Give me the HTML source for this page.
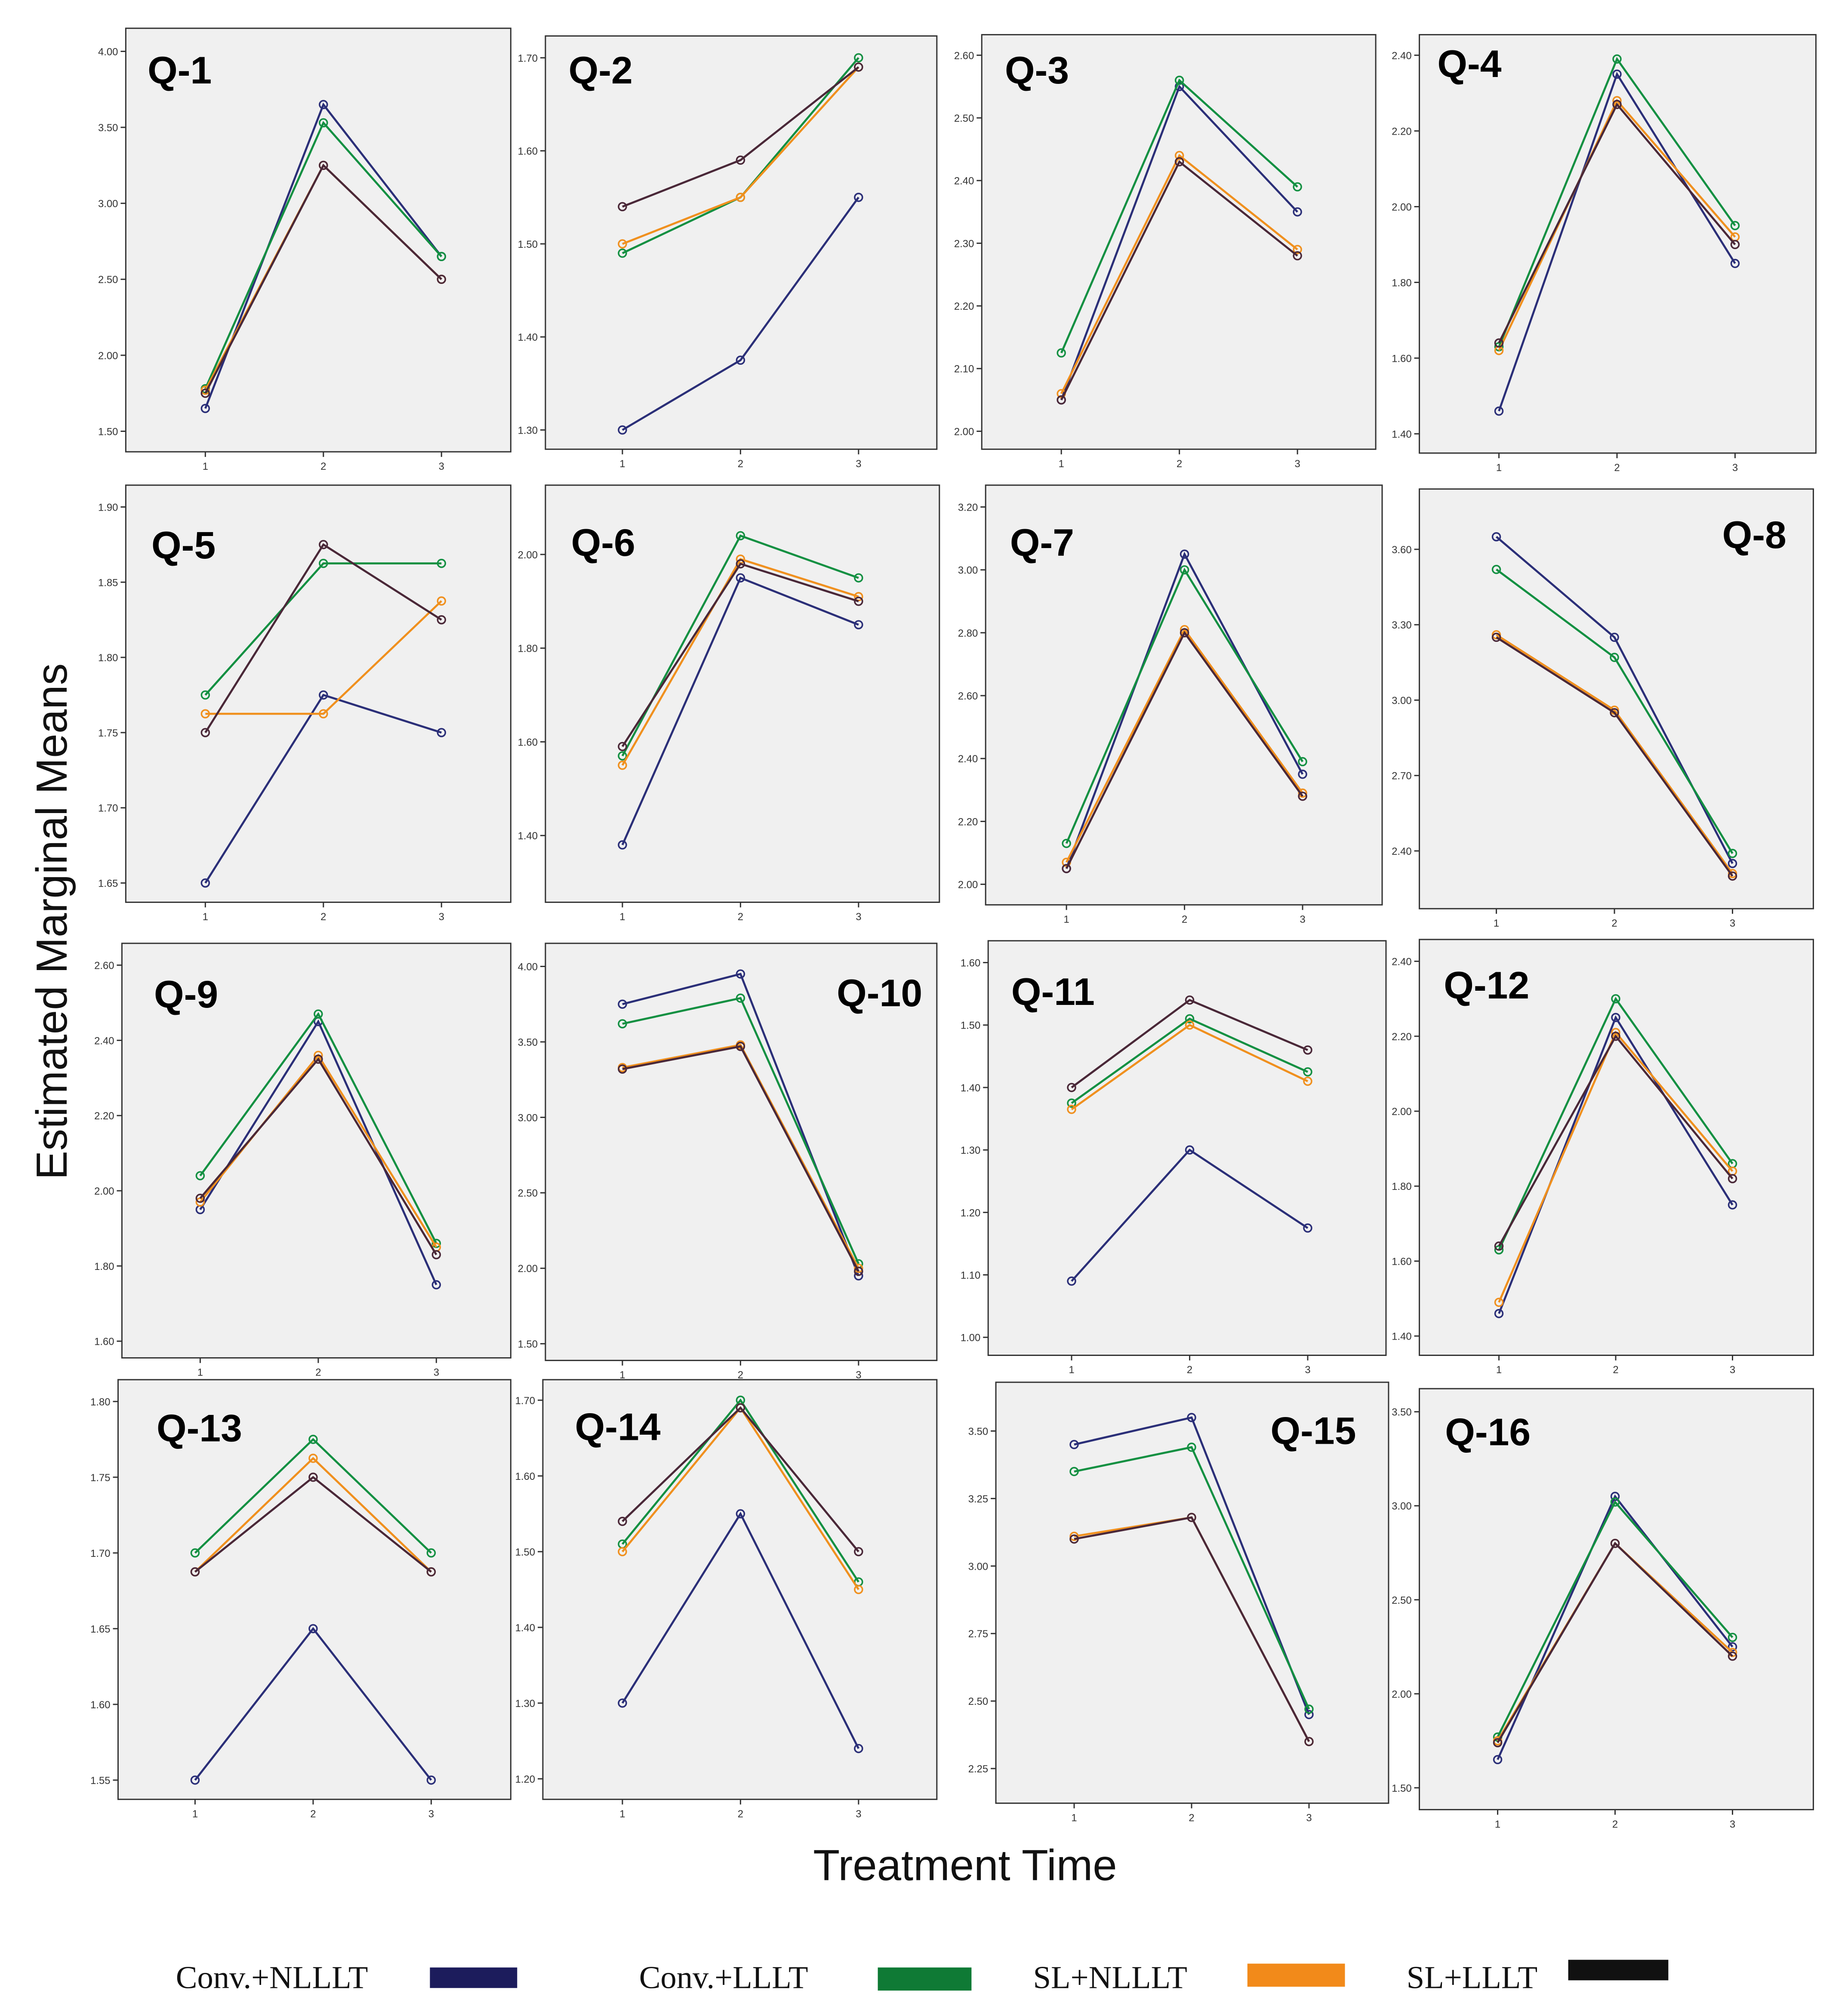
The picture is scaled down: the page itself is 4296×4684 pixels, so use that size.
<!DOCTYPE html>
<html><head><meta charset="utf-8">
<style>
html,body{margin:0;padding:0;background:#fff;}
svg{display:block;}
</style></head>
<body>
<svg id="fig" width="4296" height="4684" viewBox="0 0 1440 1570" xmlns="http://www.w3.org/2000/svg" font-family="Liberation Sans, sans-serif">
<rect width="1440" height="1570" fill="#fff"/>
<text transform="translate(52,718) rotate(-90)" text-anchor="middle" font-size="34" fill="#111">Estimated Marginal Means</text>
<text x="752" y="1465" text-anchor="middle" font-size="34" fill="#111">Treatment Time</text>
<g font-family="Liberation Serif, serif" font-size="25" fill="#111">
<g><text x="137" y="1549">Conv.+NLLLT</text><rect x="335" y="1533" width="68" height="16" fill="#1c1c5c"/></g>
<g><text x="498" y="1549">Conv.+LLLT</text><rect x="684" y="1533" width="73" height="18" fill="#0f7a35"/></g>
<g><text x="805" y="1549">SL+NLLLT</text><rect x="972" y="1530" width="76" height="18" fill="#f28a1a"/></g>
<g><text x="1096" y="1549">SL+LLLT</text><rect x="1222" y="1527" width="78" height="16" fill="#111"/></g>
</g>
<g id="panels"></g>
</svg>
<script>
const timePoints = [1, 2, 3];
const seriesNames = ["Conv.+NLLLT", "Conv.+LLLT", "SL+NLLLT", "SL+LLLT"];
const panelTitles = ["Q-1","Q-2","Q-3","Q-4","Q-5","Q-6","Q-7","Q-8","Q-9","Q-10","Q-11","Q-12","Q-13","Q-14","Q-15","Q-16"];
const convNLLLT = [[1.65,3.65,2.65],[1.30,1.375,1.55],[2.05,2.55,2.35],[1.46,2.35,1.85],[1.65,1.775,1.75],[1.38,1.95,1.85],[2.05,3.05,2.35],[3.65,3.25,2.35],[1.95,2.45,1.75],[3.75,3.95,1.95],[1.09,1.30,1.175],[1.46,2.25,1.75],[1.55,1.65,1.55],[1.30,1.55,1.24],[3.45,3.55,2.45],[1.65,3.05,2.25]];
const convLLLT = [[1.78,3.53,2.65],[1.49,1.55,1.70],[2.125,2.56,2.39],[1.63,2.39,1.95],[1.775,1.8625,1.8625],[1.57,2.04,1.95],[2.13,3.00,2.39],[3.52,3.17,2.39],[2.04,2.47,1.86],[3.62,3.79,2.03],[1.375,1.51,1.425],[1.63,2.30,1.86],[1.70,1.775,1.70],[1.51,1.70,1.46],[3.35,3.44,2.47],[1.77,3.02,2.30]];
const slNLLLT = [[1.77,3.25,2.50],[1.50,1.55,1.69],[2.06,2.44,2.29],[1.62,2.28,1.92],[1.7625,1.7625,1.8375],[1.55,1.99,1.91],[2.07,2.81,2.29],[3.26,2.96,2.31],[1.97,2.36,1.85],[3.33,3.48,2.00],[1.365,1.50,1.41],[1.49,2.21,1.84],[1.6875,1.7625,1.6875],[1.50,1.69,1.45],[3.11,3.18,2.35],[1.75,2.80,2.22]];
const slLLLT = [[1.75,3.25,2.50],[1.54,1.59,1.69],[2.05,2.43,2.28],[1.64,2.27,1.90],[1.75,1.875,1.825],[1.59,1.98,1.90],[2.05,2.80,2.28],[3.25,2.95,2.30],[1.98,2.35,1.83],[3.32,3.47,1.98],[1.40,1.54,1.46],[1.64,2.20,1.82],[1.6875,1.75,1.6875],[1.54,1.69,1.50],[3.10,3.18,2.35],[1.74,2.80,2.20]];
const yTicks = [
 [1.5,2.0,2.5,3.0,3.5,4.0],[1.3,1.4,1.5,1.6,1.7],[2.0,2.1,2.2,2.3,2.4,2.5,2.6],[1.4,1.6,1.8,2.0,2.2,2.4],
 [1.65,1.70,1.75,1.80,1.85,1.90],[1.4,1.6,1.8,2.0],[2.0,2.2,2.4,2.6,2.8,3.0,3.2],[2.4,2.7,3.0,3.3,3.6],
 [1.6,1.8,2.0,2.2,2.4,2.6],[1.5,2.0,2.5,3.0,3.5,4.0],[1.0,1.1,1.2,1.3,1.4,1.5,1.6],[1.4,1.6,1.8,2.0,2.2,2.4],
 [1.55,1.60,1.65,1.70,1.75,1.80],[1.2,1.3,1.4,1.5,1.6,1.7],[2.25,2.5,2.75,3.0,3.25,3.5],[1.5,2.0,2.5,3.0,3.5]];
// layout: box [x0,y0,x1,y1], pixel y of lowest & highest tick, pixel x of time 1 & 3, title pos
const layout = [
 {b:[98,22,398,352],py:[336,40],px:[160,344],t:[115,65]},
 {b:[425,28,730,350],py:[335,45],px:[485,669],t:[443,65]},
 {b:[765,27,1072,350],py:[336,43],px:[827,1011],t:[783,65]},
 {b:[1106,27,1415,353],py:[338,43],px:[1168,1352],t:[1120,60]},
 {b:[98,378,398,703],py:[688,395],px:[160,344],t:[118,435]},
 {b:[425,378,732,703],py:[651,432],px:[485,669],t:[445,433]},
 {b:[768,378,1077,705],py:[689,395],px:[831,1015],t:[787,433]},
 {b:[1106,381,1413,708],py:[663,428],px:[1166,1350],t:[1342,427]},
 {b:[95,735,398,1058],py:[1045,752],px:[156,340],t:[120,785]},
 {b:[425,735,730,1060],py:[1047,753],px:[485,669],t:[652,784]},
 {b:[770,733,1080,1056],py:[1042,750],px:[835,1019],t:[788,783]},
 {b:[1106,732,1413,1056],py:[1041,749],px:[1168,1350],t:[1125,778]},
 {b:[92,1075,398,1402],py:[1387,1092],px:[152,336],t:[122,1123]},
 {b:[423,1075,730,1402],py:[1386,1091],px:[485,669],t:[448,1122]},
 {b:[776,1077,1082,1405],py:[1378,1115],px:[837,1020],t:[990,1125]},
 {b:[1106,1082,1413,1410],py:[1393,1100],px:[1167,1350],t:[1126,1126]}];
const colors = ["#2b2f78","#139042","#f0901e","#4a2838"];
const allSeries = [convNLLLT, convLLLT, slNLLLT, slLLLT];
const NS = "http://www.w3.org/2000/svg";
function mk(tag, attrs, parent){const e=document.createElementNS(NS,tag);for(const k in attrs)e.setAttribute(k,attrs[k]);parent.appendChild(e);return e;}
const root = document.getElementById("panels");
panelTitles.forEach((title, i) => {
  const L = layout[i], ticks = yTicks[i];
  const lo = ticks[0], hi = ticks[ticks.length-1];
  const yScale = v => L.py[0] + (v - lo) / (hi - lo) * (L.py[1] - L.py[0]);
  const xScale = t => L.px[0] + (t - 1) / 2 * (L.px[1] - L.px[0]);
  const g = mk("g", {}, root);
  
  
  const [x0,y0,x1,y1] = L.b;
  const bg = mk("rect", {x:x0,y:y0,width:x1-x0,height:y1-y0,fill:"#f0f0f0",stroke:"#333","stroke-width":1}, g);
  
  
  ticks.forEach(v => {
    const y = yScale(v);
    mk("line", {x1:x0-4,x2:x0,y1:y,y2:y,stroke:"#333","stroke-width":1}, g);
    const tx = mk("text", {x:x0-6,y:y+3,"text-anchor":"end","font-size":8,fill:"#333"}, g);
    
    
    tx.textContent = v.toFixed(2);
  });
  timePoints.forEach(t => {
    const x = xScale(t);
    mk("line", {x1:x,x2:x,y1:y1,y2:y1+4,stroke:"#333","stroke-width":1}, g);
    const tx = mk("text", {x:x,y:y1+14,"text-anchor":"middle","font-size":8,fill:"#333"}, g);
    
    
    tx.textContent = t;
  });
  allSeries.forEach((s, si) => {
    const vals = s[i];
    const pts = vals.map((v, k) => xScale(timePoints[k]) + "," + yScale(v)).join(" ");
    const pl = mk("polyline", {points:pts,fill:"none",stroke:colors[si],"stroke-width":1.6}, g);
    
    
    vals.forEach((v, k) => {
      const c = mk("circle", {cx:xScale(timePoints[k]),cy:yScale(v),r:3,fill:"none",stroke:colors[si],"stroke-width":1.2}, g);
      
      
    });
  });
  const tt = mk("text", {x:L.t[0],y:L.t[1],"font-size":30,"font-weight":"bold",fill:"#000"}, g);
  
  
  tt.textContent = title;
});
</script>
</body></html>
